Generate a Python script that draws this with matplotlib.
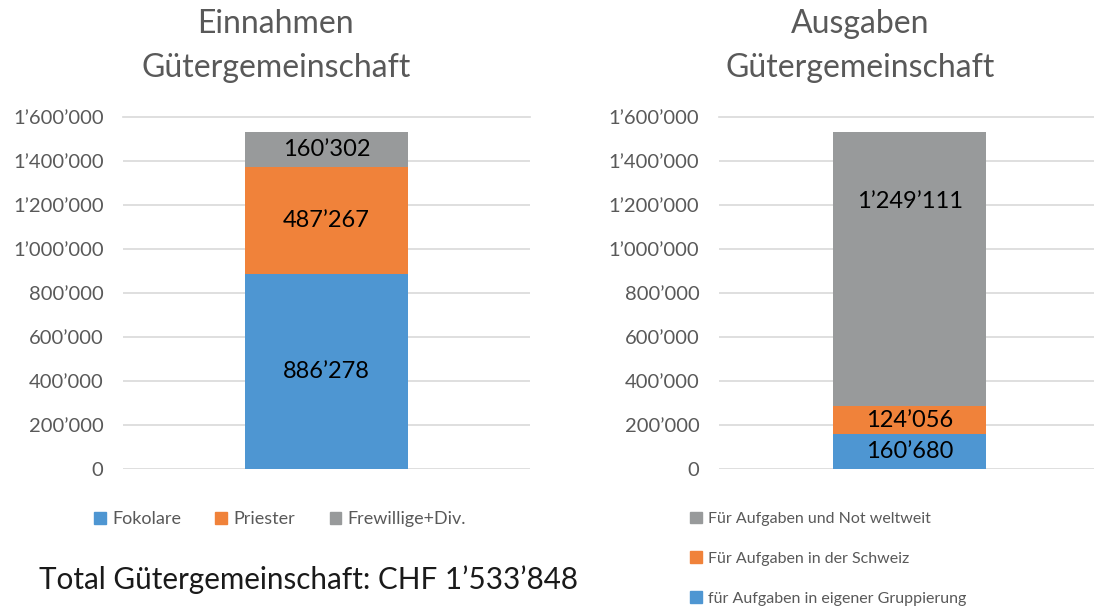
"""Gütergemeinschaft: Einnahmen und Ausgaben als gestapelte Säulen."""

import matplotlib
matplotlib.use("Agg")
import matplotlib.pyplot as plt
from matplotlib.patches import Patch
from matplotlib.ticker import FuncFormatter

plt.rcParams["font.family"] = ["Lato", "DejaVu Sans"]

# data
income_labels = ["Fokolare", "Priester", "Frewillige+Div."]
income_values = [886278, 487267, 160302]
expense_labels = [
    "für Aufgaben in eigener Gruppierung",
    "Für Aufgaben in der Schweiz",
    "Für Aufgaben und Not weltweit",
]
expense_values = [160680, 124056, 1249111]
y_ticks = [0, 200000, 400000, 600000, 800000, 1000000, 1200000, 1400000, 1600000]
total_text = "Total Gütergemeinschaft: CHF 1’533’848"

colors = ["#4e96d2", "#f0823a", "#989a9b"]
grey_text = "#595959"


def swiss(v, _pos=None):
    return f"{int(round(v)):,}".replace(",", "’")


def stacked(ax, values, width, label_pos=(0.5, 0.5, 0.5)):
    # label_pos: where inside each segment the number sits (0 bottom, 1 top)
    bottom = 0
    for val, col, frac in zip(values, colors, label_pos):
        ax.bar(0, val, width=width, bottom=bottom, color=col, zorder=2)
        ax.text(0, bottom + val * frac, swiss(val), ha="center", va="center",
                fontsize=17, color="black", zorder=3)
        bottom += val
    ax.set_xlim(-0.5, 0.5)
    ax.set_ylim(0, 1600000)
    ax.set_yticks(y_ticks)
    ax.yaxis.set_major_formatter(FuncFormatter(swiss))
    ax.set_xticks([])
    ax.tick_params(axis="y", length=0, labelsize=14.5, labelcolor=grey_text, pad=14)
    ax.grid(axis="y", color="#d9d9d9", linewidth=1.2, zorder=0)
    for sp in ax.spines.values():
        sp.set_visible(False)
    ax.yaxis.get_gridlines()[-1].set_clip_on(False)


fig = plt.figure(figsize=(10.94, 6.13), dpi=100)

ax1 = fig.add_axes([0.1124, 0.2349, 0.372, 0.5742])
stacked(ax1, income_values, 0.40)

ax2 = fig.add_axes([0.657, 0.2349, 0.349, 0.5742])
stacked(ax2, expense_values, 0.40, label_pos=(0.5, 0.5, 0.745))

title_kw = dict(ha="center", va="center", fontsize=23, color=grey_text,
                linespacing=1.6)
fig.text(0.252, 0.925, "Einnahmen\nGütergemeinschaft", **title_kw)
fig.text(0.786, 0.925, "Ausgaben\nGütergemeinschaft", **title_kw)

handles_in = [Patch(color=c) for c in colors]
fig.legend(handles_in, income_labels, loc="center", bbox_to_anchor=(0.256, 0.153),
           ncol=3, frameon=False, fontsize=13, labelcolor=grey_text,
           handlelength=0.65, handleheight=0.65, handletextpad=0.35,
           columnspacing=1.9)

handles_out = [Patch(color=c) for c in colors][::-1]
fig.legend(handles_out, expense_labels[::-1], loc="upper left",
           bbox_to_anchor=(0.618, 0.189), frameon=False, fontsize=11.5,
           labelcolor=grey_text, handlelength=0.75, handleheight=0.75,
           handletextpad=0.35, labelspacing=1.6)

fig.text(0.036, 0.055, total_text, ha="left", va="center", fontsize=21.3,
         color="#1a1a1a")

fig.savefig("out.png", dpi=100)
plt.close(fig)
